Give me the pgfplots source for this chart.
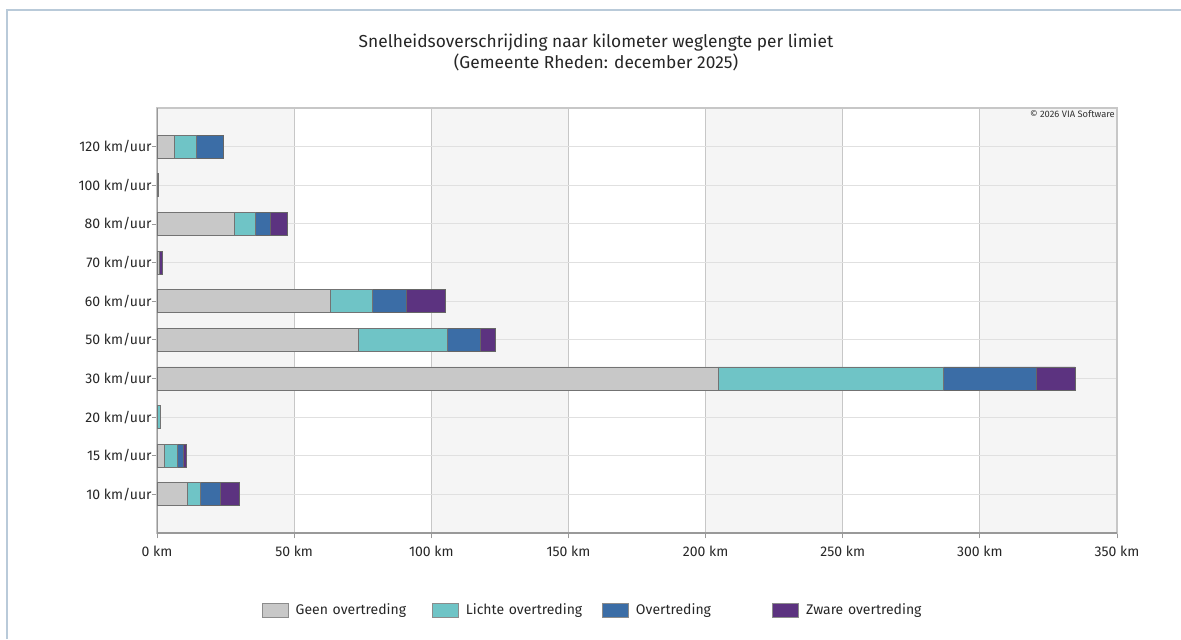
\documentclass[border=0pt]{standalone}
\usepackage{fontspec}
\setmainfont{Fira Sans}
\usepackage{pgfplots}
\usepackage{pgfplotstable}
\pgfplotsset{compat=1.18}

\definecolor{geen}{HTML}{C8C8C8}
\definecolor{licht}{HTML}{6FC4C6}
\definecolor{over}{HTML}{3B6DA6}
\definecolor{zwaar}{HTML}{5C3380}
\definecolor{band}{HTML}{F5F5F5}
\definecolor{framec}{HTML}{B9CAD9}

% km per limiet (0 = 10 km/uur ... 9 = 120 km/uur)
\pgfplotstableread{
cat geen  licht over zwaar
0   11.0  4.8   7.4  6.7
1   2.7   4.7   2.2  1.2
2   0.2   1.0   0.2  0
3   204.6 82.1  33.9 14.1
4   73.6  32.1  12.2 5.6
5   63.2  15.5  12.1 14.4
6   0.9   0     0.1  0.8
7   28.1  7.8   5.6  6.1
8   0.6   0     0    0
9   6.3   8.1   9.8  0
}\data

\begin{document}
\begin{tikzpicture}[x=0.75pt,y=0.75pt]
\path[use as bounding box] (0,0) rectangle (1181,639);
\draw[framec, line width=1.1pt] (7,0) -- (7,629) -- (1181,629);
\node[align=center, font=\fontsize{13}{15.75}\selectfont, text=black!85] at (596,586.5)
  {Snelheidsoverschrijding naar kilometer weglengte per limiet\\(Gemeente Rheden: december 2025)};
% alternating background bands behind the plot area (every other 50 km)
\fill[band] (157,106) rectangle (294.14,531);
\fill[band] (431.29,106) rectangle (568.43,531);
\fill[band] (705.57,106) rectangle (842.71,531);
\fill[band] (980,106) rectangle (1117,531);
\begin{axis}[
  at={(117.75pt,79.5pt)}, anchor=south west,
  scale only axis, width=720pt, height=318.75pt,
  xbar stacked, bar width=17.25pt,
  xmin=0, xmax=350, ymin=-1, ymax=10,
  xtick={0,50,...,350},
  xticklabels={0 km,50 km,100 km,150 km,200 km,250 km,300 km,350 km},
  ytick={0,...,9},
  yticklabels={10 km/uur,15 km/uur,20 km/uur,30 km/uur,50 km/uur,60 km/uur,70 km/uur,80 km/uur,100 km/uur,120 km/uur},
  xtick pos=lower, ytick pos=left, tick align=outside,
  major tick length=4pt,
  tick style={draw=black!40, line width=0.6pt},
  axis line style={draw=black!22, line width=0.8pt},
  xmajorgrids, ymajorgrids,
  major x grid style={draw=black!22, line width=0.8pt},
  major y grid style={draw=black!12, line width=0.8pt},
  tick label style={font=\fontsize{10.5}{12}\selectfont, text=black!85},
  yticklabel style={xshift=3.5pt},
  xticklabel style={yshift=-2pt},
  legend columns=4,
  legend style={at={(0.109,-0.181)}, anchor=west, draw=none, fill=none,
    inner xsep=0pt, font=\fontsize{10.5}{12}\selectfont, text=black!85,
    /tikz/every even column/.style={column sep=0pt}},
  legend image code/.code={\draw[#1, draw=black!45, line width=0.6pt] (0pt,-5.25pt) rectangle (19.5pt,5.25pt);},
]
\addplot[fill=geen, draw=black!55, line width=0.6pt] table[x=geen, y=cat] {\data};
\addlegendentry[text width=97pt, align=left, inner xsep=5.25pt]{Geen overtreding}
\addplot[fill=licht, draw=black!55, line width=0.6pt] table[x=licht, y=cat] {\data};
\addlegendentry[text width=97pt, align=left, inner xsep=5.25pt]{Lichte overtreding}
\addplot[fill=over, draw=black!60, line width=0.6pt] table[x=over, y=cat] {\data};
\addlegendentry[text width=97pt, align=left, inner xsep=5.25pt]{Overtreding}
\addplot[fill=zwaar, draw=black!60, line width=0.6pt] table[x=zwaar, y=cat] {\data};
\addlegendentry[text width=97pt, align=left, inner xsep=5.25pt]{Zware overtreding}
\draw[black!40, line width=0.8pt] (rel axis cs:0,1) -- (rel axis cs:0,0) -- (rel axis cs:1,0);
\node[anchor=north east, font=\fontsize{7}{8}\selectfont, text=black!80, inner sep=1.5pt] at (rel axis cs:1,1) {© 2026 VIA Software};
\end{axis}
\end{tikzpicture}
\end{document}
